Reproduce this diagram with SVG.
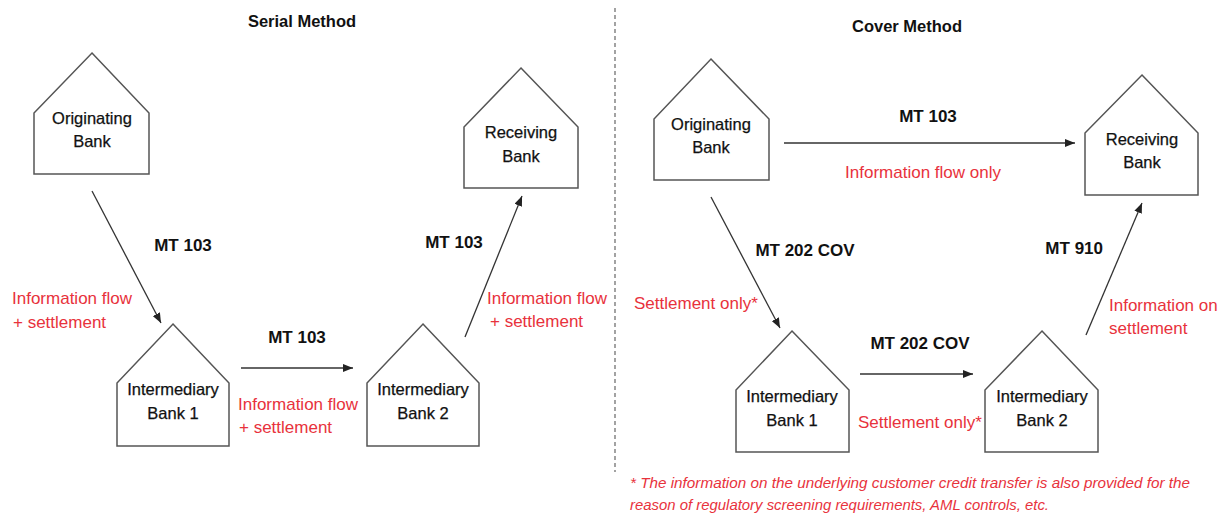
<svg xmlns="http://www.w3.org/2000/svg" width="1224" height="516" viewBox="0 0 1224 516">
<defs>
<marker id="ah" markerUnits="userSpaceOnUse" markerWidth="10" markerHeight="8" refX="10" refY="4" orient="auto">
<path d="M0,0 L10,4 L0,8 z" fill="#222"/>
</marker>
<style>
.node{fill:#fff;stroke:#555;stroke-width:1.5}
.nt{font-family:"Liberation Sans",Arial,sans-serif;font-size:16.5px;fill:#111;text-anchor:middle;stroke:#111;stroke-width:0.25}
.mt{font-family:"Liberation Sans",Arial,sans-serif;font-size:17px;font-weight:bold;fill:#111}
.red{font-family:"Liberation Sans",Arial,sans-serif;font-size:17px;fill:#e8323c}
.title{font-family:"Liberation Sans",Arial,sans-serif;font-size:16.5px;font-weight:bold;fill:#111;text-anchor:middle}
.foot{font-family:"Liberation Sans",Arial,sans-serif;font-size:15px;font-style:italic;fill:#e8323c}
.conn{stroke:#333;stroke-width:1.3;fill:none;marker-end:url(#ah)}
</style>
</defs>
<rect width="1224" height="516" fill="#fff"/>
<text class="title" x="302" y="27">Serial Method</text>
<text class="title" x="907" y="32">Cover Method</text>
<line x1="615" y1="8" x2="615" y2="472" stroke="#666" stroke-width="1.2" stroke-dasharray="4 3"/>

<g id="s-orig"><polygon class="node" points="92,53 149,113 149,174 34,174 34,113"/><text class="nt" x="92" y="124">Originating</text><text class="nt" x="92" y="147">Bank</text></g>
<g id="s-recv"><polygon class="node" points="521,68 578,127 578,188 464,188 464,127"/><text class="nt" x="521" y="138">Receiving</text><text class="nt" x="521" y="162">Bank</text></g>
<g id="s-ib1"><polygon class="node" points="173,324 229,383 229,446 117,446 117,383"/><text class="nt" x="173" y="395">Intermediary</text><text class="nt" x="173" y="419">Bank 1</text></g>
<g id="s-ib2"><polygon class="node" points="423,324 479,383 479,446 367,446 367,383"/><text class="nt" x="423" y="395">Intermediary</text><text class="nt" x="423" y="419">Bank 2</text></g>
<g id="c-orig"><polygon class="node" points="711,59 769,119 769,180 654,180 654,119"/><text class="nt" x="711" y="130">Originating</text><text class="nt" x="711" y="153">Bank</text></g>
<g id="c-recv"><polygon class="node" points="1142,75 1198,133 1198,195 1085,195 1085,133"/><text class="nt" x="1142" y="145">Receiving</text><text class="nt" x="1142" y="168">Bank</text></g>
<g id="c-ib1"><polygon class="node" points="792,331 849,390 849,452 736,452 736,390"/><text class="nt" x="792" y="402">Intermediary</text><text class="nt" x="792" y="426">Bank 1</text></g>
<g id="c-ib2"><polygon class="node" points="1042,331 1098,390 1098,452 985,452 985,390"/><text class="nt" x="1042" y="402">Intermediary</text><text class="nt" x="1042" y="426">Bank 2</text></g>

<g id="connectors">
<line class="conn" x1="92" y1="191" x2="161" y2="323"/>
<line class="conn" x1="241" y1="368" x2="353" y2="368"/>
<line class="conn" x1="465" y1="337" x2="522" y2="196"/>
<line class="conn" x1="784" y1="143" x2="1075" y2="143"/>
<line class="conn" x1="711" y1="197" x2="780" y2="328"/>
<line class="conn" x1="860" y1="374" x2="973" y2="374"/>
<line class="conn" x1="1086" y1="335" x2="1142" y2="203"/>
</g>

<g id="labels">
<text class="mt" x="183" y="251" text-anchor="middle">MT 103</text>
<text class="mt" x="297" y="343" text-anchor="middle">MT 103</text>
<text class="mt" x="454" y="248" text-anchor="middle">MT 103</text>
<text class="mt" x="928" y="122" text-anchor="middle">MT 103</text>
<text class="mt" x="805" y="256" text-anchor="middle">MT 202 COV</text>
<text class="mt" x="920" y="349" text-anchor="middle">MT 202 COV</text>
<text class="mt" x="1103" y="254" text-anchor="end">MT 910</text>

<text class="red" x="12" y="304">Information flow</text>
<text class="red" x="13" y="328">+ settlement</text>
<text class="red" x="238" y="410">Information flow</text>
<text class="red" x="239" y="433">+ settlement</text>
<text class="red" x="487" y="304">Information flow</text>
<text class="red" x="490" y="327">+ settlement</text>
<text class="red" x="923" y="178" text-anchor="middle">Information flow only</text>
<text class="red" x="634" y="309">Settlement only*</text>
<text class="red" x="858" y="428">Settlement only*</text>
<text class="red" x="1109" y="311">Information on</text>
<text class="red" x="1109" y="334">settlement</text>

<text class="foot" x="630" y="488" textLength="560" lengthAdjust="spacingAndGlyphs">* The information on the underlying customer credit transfer is also provided for the</text>
<text class="foot" x="630" y="510" textLength="419" lengthAdjust="spacingAndGlyphs">reason of regulatory screening requirements, AML controls, etc.</text>
</g>
</svg>
